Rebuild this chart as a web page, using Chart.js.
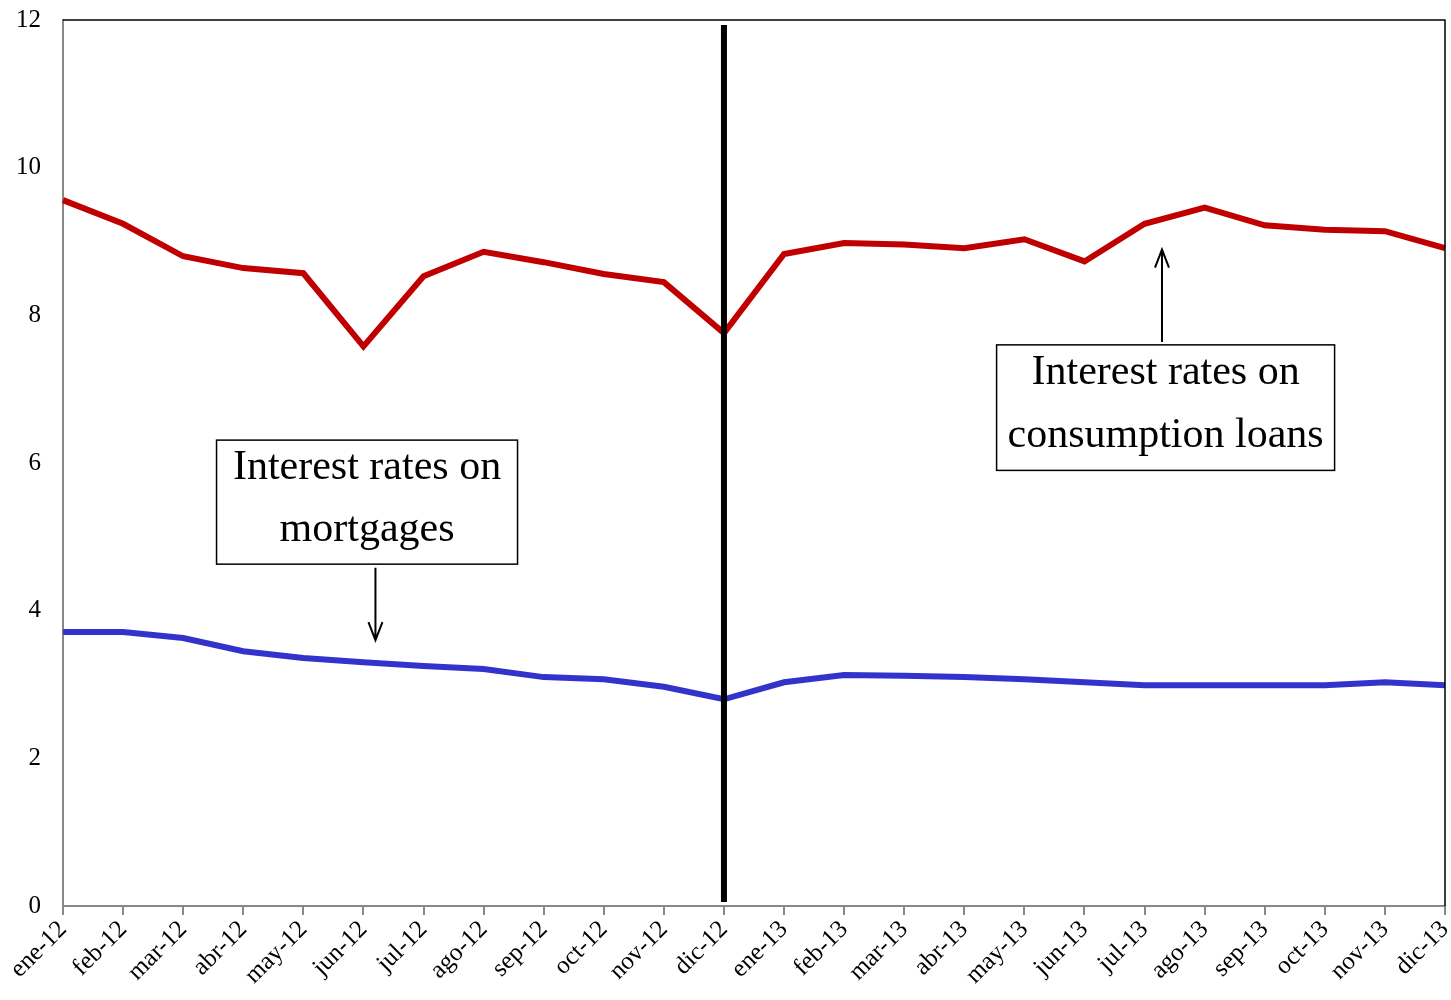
<!DOCTYPE html>
<html>
<head>
<meta charset="utf-8">
<script src="https://cdn.jsdelivr.net/npm/chart.js@4.4.1/dist/chart.umd.min.js"></script>
<style>
  html, body { margin: 0; padding: 0; background: #fff; }
  #wrap { width: 1451px; height: 1000px; }
</style>
</head>
<body>
<div id="wrap"><canvas id="chart" width="1451" height="1000"></canvas></div>
<script>
const months = ['ene-12', 'feb-12', 'mar-12', 'abr-12', 'may-12', 'jun-12', 'jul-12', 'ago-12',
  'sep-12', 'oct-12', 'nov-12', 'dic-12', 'ene-13', 'feb-13', 'mar-13', 'abr-13', 'may-13',
  'jun-13', 'jul-13', 'ago-13', 'sep-13', 'oct-13', 'nov-13', 'dic-13'];

const consumptionRates = [9.56, 9.24, 8.80, 8.64, 8.57, 7.58, 8.53, 8.86, 8.72, 8.56, 8.45, 7.76,
  8.83, 8.98, 8.96, 8.91, 9.03, 8.73, 9.24, 9.46, 9.22, 9.16, 9.14, 8.91];

const mortgageRates = [3.71, 3.71, 3.63, 3.45, 3.36, 3.30, 3.25, 3.21, 3.10, 3.07, 2.97, 2.80,
  3.03, 3.13, 3.12, 3.10, 3.07, 3.03, 2.99, 2.99, 2.99, 2.99, 3.03, 2.99];

const yTicks = [0, 2, 4, 6, 8, 10, 12];
const breakMonth = 'dic-12';

const serif = '"Liberation Serif", "DejaVu Serif", serif';

// vertical divider, box annotations and top/right frame
const overlay = {
  id: 'overlay',
  afterDatasetsDraw(chart) {
    const { ctx, chartArea, scales } = chart;
    const x = scales.x, y = scales.y;

    ctx.save();
    // frame top/right
    ctx.strokeStyle = '#000';
    ctx.lineWidth = 1.5;
    ctx.beginPath();
    ctx.moveTo(chartArea.left, chartArea.top);
    ctx.lineTo(chartArea.right, chartArea.top);
    ctx.lineTo(chartArea.right, chartArea.bottom);
    ctx.stroke();

    // break line
    const bx = x.getPixelForValue(months.indexOf(breakMonth));
    ctx.lineWidth = 6;
    ctx.beginPath();
    ctx.moveTo(bx, chartArea.top + 5);
    ctx.lineTo(bx, chartArea.bottom - 4);
    ctx.stroke();

    const box = (cx, top, bottom, w, lines) => {
      const px = x.getPixelForValue(cx);
      const t = y.getPixelForValue(top), b = y.getPixelForValue(bottom);
      ctx.fillStyle = '#fff';
      ctx.fillRect(px - w / 2, t, w, b - t);
      ctx.strokeStyle = '#000';
      ctx.lineWidth = 1.5;
      ctx.strokeRect(px - w / 2, t, w, b - t);
      ctx.fillStyle = '#000';
      ctx.font = '42px ' + serif;
      ctx.textAlign = 'center';
      ctx.textBaseline = 'middle';
      const h = (b - t) / lines.length;
      lines.forEach((s, i) => ctx.fillText(s, px, t + h * (i + 0.5) - 3));
    };

    const arrow = (cx, from, to) => {
      const px = x.getPixelForValue(cx);
      const y0 = y.getPixelForValue(from), y1 = y.getPixelForValue(to);
      const dir = y1 > y0 ? -1 : 1;
      ctx.strokeStyle = '#000';
      ctx.lineWidth = 2;
      ctx.beginPath();
      ctx.moveTo(px, y0);
      ctx.lineTo(px, y1);
      ctx.moveTo(px - 7, y1 + dir * 18);
      ctx.lineTo(px, y1);
      ctx.lineTo(px + 7, y1 + dir * 18);
      ctx.stroke();
    };

    box(5.06, 6.31, 4.63, 301, ['Interest rates on', 'mortgages']);
    arrow(5.2, 4.58, 3.6);
    box(18.35, 7.6, 5.9, 338, ['Interest rates on', 'consumption loans']);
    arrow(18.29, 7.64, 8.89);
    ctx.restore();
  }
};

new Chart(document.getElementById('chart'), {
  type: 'line',
  data: {
    labels: months,
    datasets: [{
      label: 'Interest rates on consumption loans',
      data: consumptionRates,
      borderColor: '#C00000',
      borderWidth: 6,
      pointRadius: 0,
      tension: 0
    }, {
      label: 'Interest rates on mortgages',
      data: mortgageRates,
      borderColor: '#3333CC',
      borderWidth: 6,
      pointRadius: 0,
      tension: 0
    }]
  },
  options: {
    responsive: false,
    animation: false,
    layout: { padding: { top: 20, right: 6, left: 0, bottom: 0 } },
    plugins: {
      legend: { display: false },
      tooltip: { enabled: false }
    },
    scales: {
      x: {
        offset: false,
        grid: { drawOnChartArea: false, drawTicks: true, tickLength: 9, color: '#888', lineWidth: 2 },
        border: { color: '#888', width: 2 },
        ticks: {
          color: '#000',
          font: { family: serif, size: 25 },
          maxRotation: 45,
          minRotation: 45,
          autoSkip: false,
          padding: 0
        },
        afterFit(axis) {
          axis.height = 94;
          axis.paddingLeft = 0;
          axis.paddingRight = 0;
        }
      },
      y: {
        min: 0,
        max: 12,
        afterBuildTicks(axis) { axis.ticks = yTicks.map(v => ({ value: v })); },
        grid: { display: false, drawTicks: false },
        border: { color: '#888', width: 2 },
        ticks: {
          color: '#000',
          font: { family: serif, size: 25 },
          padding: 22
        },
        afterFit(axis) {
          axis.width = 63;
          axis.paddingTop = 0;
          axis.paddingBottom = 0;
        }
      }
    }
  },
  plugins: [overlay]
});
</script>
</body>
</html>
